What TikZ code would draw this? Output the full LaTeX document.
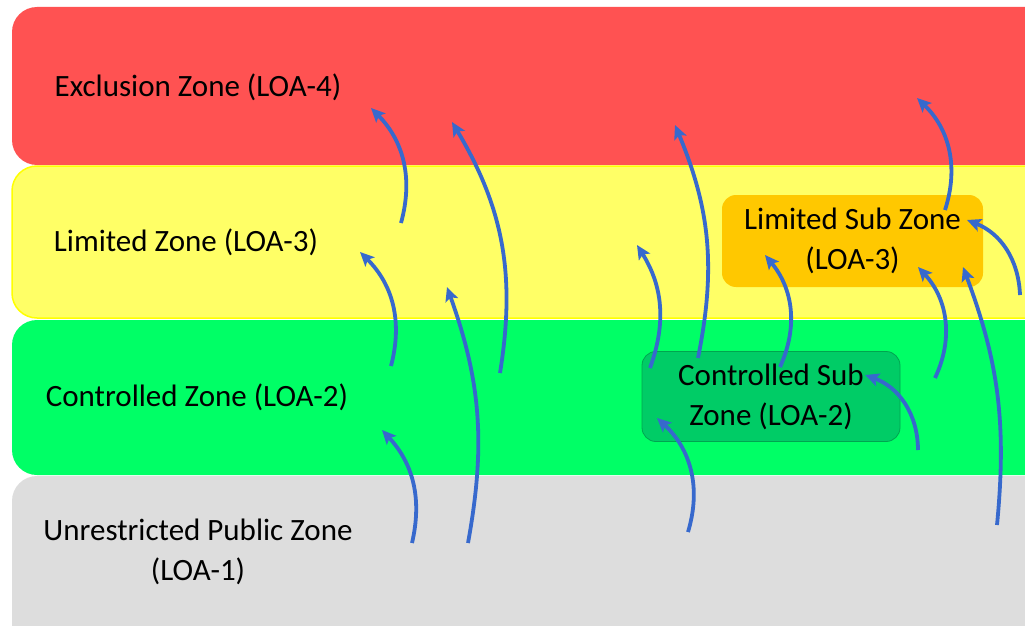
\documentclass[tikz,border=0pt]{standalone}
\usepackage{fontspec}
\setmainfont{Carlito}
\usetikzlibrary{arrows.meta}
\definecolor{exred}{RGB}{255,82,82}
\definecolor{limyel}{RGB}{255,255,102}
\definecolor{limyeldraw}{RGB}{255,255,0}
\definecolor{congreen}{RGB}{0,255,102}
\definecolor{pubgray}{RGB}{221,221,221}
\definecolor{suborange}{RGB}{255,200,0}
\definecolor{subgreen}{RGB}{0,204,102}
\definecolor{subgreendraw}{RGB}{0,165,80}
\definecolor{arrowblue}{RGB}{55,105,205}
\begin{document}
\begin{tikzpicture}[x=1pt,y=-1pt,
  zonetext/.style={font=\fontsize{31}{40}\selectfont, align=center, inner sep=0pt, text=black},
  subzone/.style={rounded corners=14pt, align=center, font=\fontsize{31}{40}\selectfont, inner sep=0pt, text=black},
  band/.style={rounded corners=25pt},
  flow/.style={arrowblue, line width=3.8pt, -{Stealth[length=14pt,width=13pt,inset=3pt]}}]
\useasboundingbox (0,0) rectangle (1025,626);
\clip (0,0) rectangle (1025,626);
\fill[white] (0,0) rectangle (1025,626);
% bands
\fill[band, exred] (12,7) rectangle (1080,165);
\filldraw[band, fill=limyel, draw=limyeldraw, line width=1.5pt] (12,166) rectangle (1080,318);
\fill[band, congreen] (12,320) rectangle (1080,475);
\fill[band, pubgray] (12,476) rectangle (1080,650);
% zone labels
\node[zonetext] (excl) at (198,87) {Exclusion Zone (LOA-4)};
\node[zonetext] (lim) at (186,242) {Limited Zone (LOA-3)};
\node[zonetext] (ctrl) at (197,397) {Controlled Zone (LOA-2)};
\node[zonetext] (pub) at (198,552) {Unrestricted Public Zone\\(LOA-1)};
% sub zones
\node[subzone, fill=suborange, minimum width=261pt, minimum height=92pt] (limsub) at (852.5,241) {Limited Sub Zone\\(LOA-3)};
\node[subzone, fill=subgreen, draw=subgreendraw, line width=0.8pt, minimum width=258pt, minimum height=90pt] (ctrlsub) at (771,396.5) {Controlled Sub\\Zone (LOA-2)};
% arrow end points
\coordinate (t1) at (401,223);  \coordinate (h1) at (371,108);
\coordinate (t2) at (500,373);  \coordinate (h2) at (452,122);
\coordinate (t3) at (391,366);  \coordinate (h3) at (360,252);
\coordinate (t4) at (468,543);  \coordinate (h4) at (447,287);
\coordinate (t5) at (412,543);  \coordinate (h5) at (382,430);
\coordinate (t6) at (698,358);  \coordinate (h6) at (675,125);
\coordinate (t7) at (650,368);  \coordinate (h7) at (637,245);
\coordinate (t8) at (780,367);  \coordinate (h8) at (765,255);
\coordinate (t9) at (945,210);  \coordinate (h9) at (917,98);
\coordinate (t10) at (935,378); \coordinate (h10) at (918,267);
\coordinate (t11) at (997,525); \coordinate (h11) at (963,267);
\coordinate (t12) at (1020,295); \coordinate (h12) at (967,220);
\coordinate (t13) at (918,450); \coordinate (h13) at (865,375);
\coordinate (t14) at (688,532); \coordinate (h14) at (657,418);
% arrows
\draw[flow] (t1) to[bend right=30] (h1);
\draw[flow] (t2) to[bend right=20] (h2);
\draw[flow] (t3) to[bend right=30] (h3);
\draw[flow] (t4) to[bend right=15] (h4);
\draw[flow] (t5) to[bend right=28] (h5);
\draw[flow] (t6) to[bend right=17] (h6);
\draw[flow] (t7) to[bend right=26] (h7);
\draw[flow] (t8) to[bend right=32] (h8);
\draw[flow] (t9) to[bend right=32] (h9);
\draw[flow] (t10) to[bend right=34] (h10);
\draw[flow] (t11) to[bend right=13] (h11);
\draw[flow] (t12) to[bend right=33] (h12);
\draw[flow] (t13) to[bend right=35] (h13);
\draw[flow] (t14) to[bend right=32] (h14);
\end{tikzpicture}
\end{document}
